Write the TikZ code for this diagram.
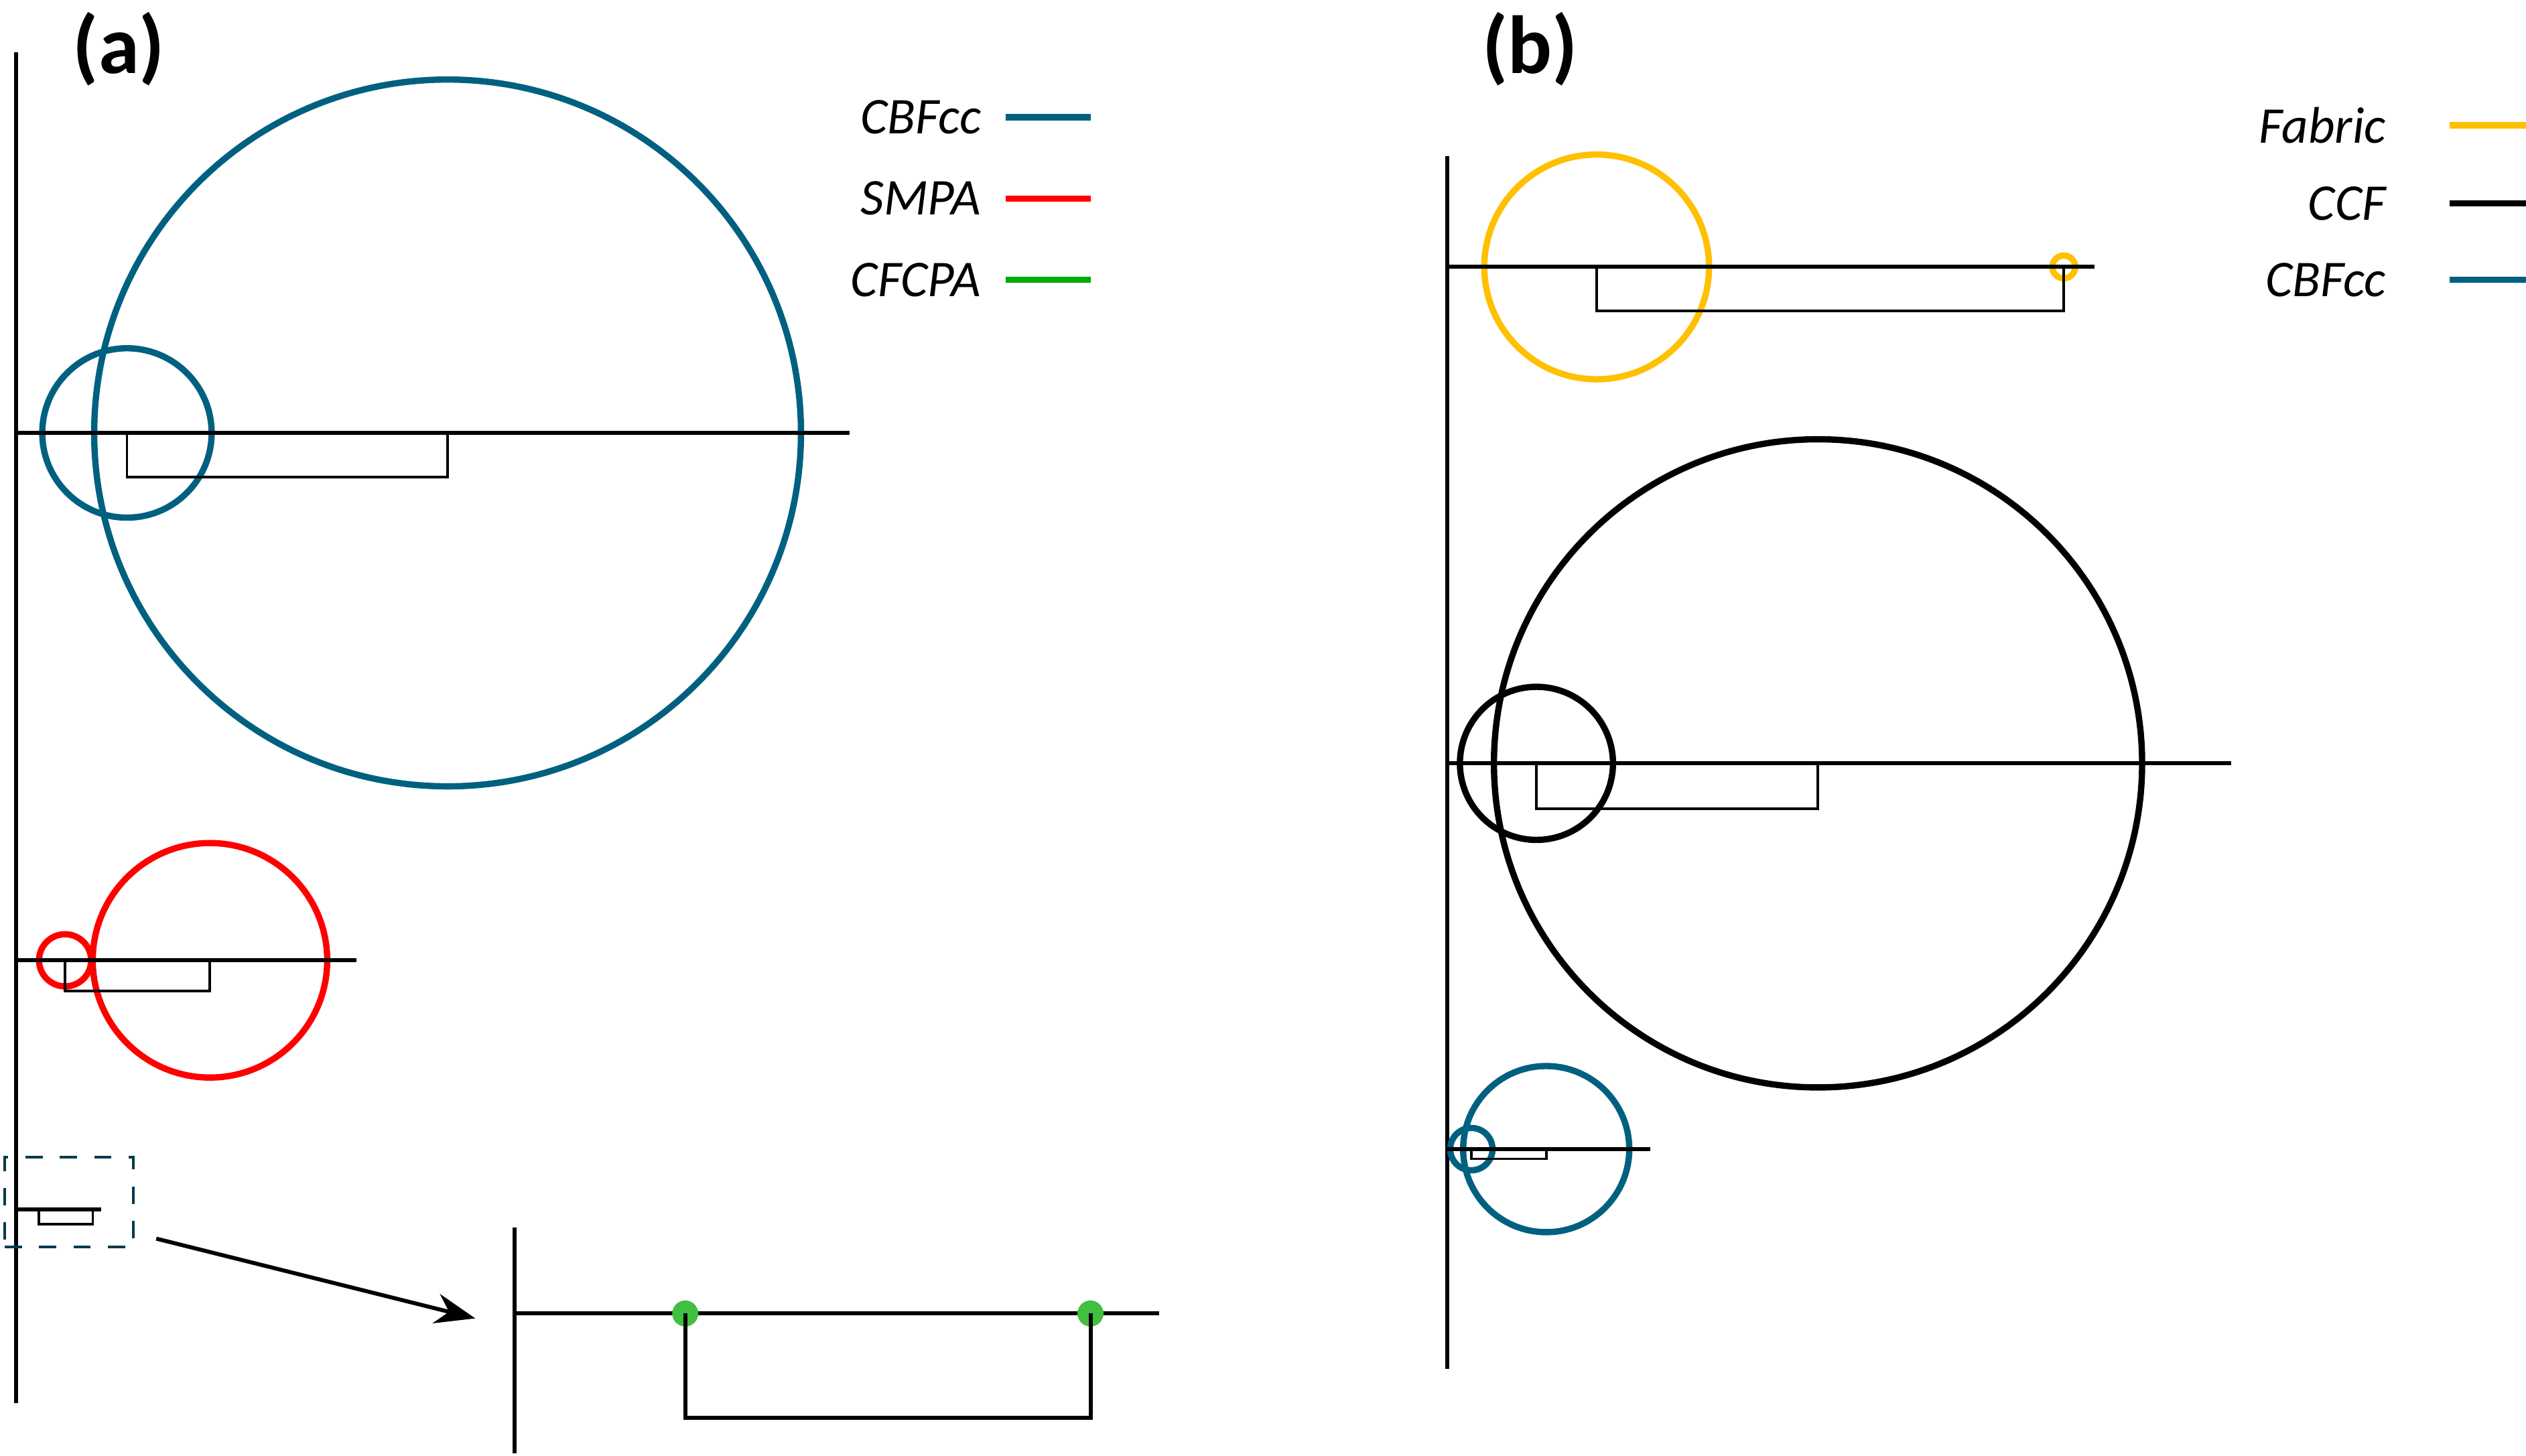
\documentclass[tikz,border=0pt]{standalone}
\usepackage{fontspec}
\setmainfont{Carlito}
\usepackage{tikz}
\usetikzlibrary{positioning, arrows.meta}
\definecolor{cbf}{RGB}{0,96,128}
\definecolor{smpa}{RGB}{255,0,0}
\definecolor{cfc}{RGB}{0,170,0}
\definecolor{fab}{RGB}{255,192,0}
\tikzset{C/.style={draw, circle, inner sep=0pt, line width=1.1pt},
  ax/.style={line width=0.7pt},
  br/.style={line width=0.45pt},
  L/.style={font=\small\itshape, anchor=east, inner sep=1pt},
  key/.style={line width=1.1pt},
  P/.style={font=\Large\bfseries}}

\begin{document}
\begin{tikzpicture}[x=0.01cm, y=-0.01cm]
\useasboundingbox (0,0) rectangle (1552,894.5);
% panel (a)
\node[P] (pa) at (73,30) {(a)};
\coordinate (aT) at (10,32); \coordinate (aB) at (10,862);
\draw[ax] (aT) -- (aB);
% CBFcc
\node[C, cbf, minimum size=4.34cm] (A1) at (275,266) {};
\node[C, cbf, minimum size=1.04cm] (A2) at (78,266) {};
\coordinate (A0) at (10,266); \coordinate (AE) at (522,266);
\draw[ax] (A0) -- (AE);
\draw[br] (A2.center) -- ++(0,27) -| (A1.center);
% SMPA
\node[C, smpa, minimum size=1.44cm] (S1) at (129,590) {};
\node[C, smpa, minimum size=0.32cm] (S2) at (40,590) {};
\coordinate (S0) at (10,590); \coordinate (SE) at (219,590);
\draw[ax] (S0) -- (SE);
\draw[br] (S2.center) -- ++(0,19) -| (S1.center);
% CFCPA (tiny)
\coordinate (F0) at (10,743); \coordinate (FE) at (62,743);
\coordinate (F1) at (24,743); \coordinate (F2) at (57,743);
\draw[ax] (F0) -- (FE);
\draw[br] (F1) -- ++(0,9) -| (F2);
\node[draw=cbf!60!black, dashed, line width=0.5pt, minimum width=0.79cm, minimum height=0.55cm] (Z) at (42.5,738.5) {};
% inset
\coordinate (iT) at (316,754); \coordinate (iB) at (316,893);
\coordinate (i0) at (316,807); \coordinate (iE) at (712,807);
\draw[ax] (iT) -- (iB);
\draw[ax] (i0) -- (iE);
\node[circle, fill=cfc!75, inner sep=0pt, minimum size=0.16cm] (g1) at (421,807) {};
\node[circle, fill=cfc!75, inner sep=0pt, minimum size=0.16cm] (g2) at (670,807) {};
\draw[line width=0.7pt] (g1.center) -- ++(0,64) -| (g2.center);
\coordinate (arA) at (96,761); \coordinate (arB) at (292,810);
\draw[line width=0.7pt, -{Stealth[length=7pt]}] (arA) -- (arB);
% legend (a)
\foreach \t/\c/\y in {CBFcc/cbf/72, SMPA/smpa/122, CFCPA/cfc/172}{
  \node[L] (la\t) at (607,\y) {\t};
  \draw[key, \c] (618,\y) -- (670,\y);
}
% panel (b)
\node[P] (pb) at (940,30) {(b)};
\coordinate (bT) at (889,96); \coordinate (bB) at (889,841);
\draw[ax] (bT) -- (bB);
% Fabric
\node[C, fab, minimum size=1.38cm] (Y1) at (981,164) {};
\node[C, fab, minimum size=0.14cm] (Y2) at (1268,164) {};
\coordinate (Y0) at (889,164); \coordinate (YE) at (1287,164);
\draw[ax] (Y0) -- (YE);
\draw[br] (Y1.center) -- ++(0,27) -| (Y2.center);
% CCF
\node[C, black, minimum size=3.98cm] (K1) at (1117,469) {};
\node[C, black, minimum size=0.94cm] (K2) at (944,469) {};
\coordinate (K0) at (889,469); \coordinate (KE) at (1371,469);
\draw[ax] (K0) -- (KE);
\draw[br] (K2.center) -- ++(0,28) -| (K1.center);
% CBFcc
\node[C, cbf, minimum size=1.02cm] (B1) at (950,706) {};
\node[C, cbf, minimum size=0.26cm] (B2) at (904,706) {};
\coordinate (B0) at (889,706); \coordinate (BE) at (1014,706);
\draw[ax] (B0) -- (BE);
\draw[br] (B2.center) -- ++(0,6) -| (B1.center);
% legend (b)
\foreach \t/\c/\y in {Fabric/fab/77, CCF/black/125, CBFcc/cbf/172}{
  \node[L] (lb\t) at (1470,\y) {\t};
  \draw[key, \c] (1505,\y) -- (1558,\y);
}
\end{tikzpicture}
\end{document}
